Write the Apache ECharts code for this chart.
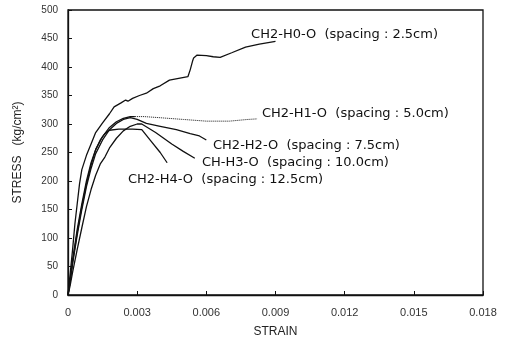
<!DOCTYPE html>
<html><head><meta charset="utf-8">
<script src="https://cdn.jsdelivr.net/npm/echarts@6/dist/echarts.min.js"></script>
<style>html,body{margin:0;padding:0;background:#fff}#c{width:507px;height:349px}</style>
</head><body><div id="c"></div>
<script>
// ---- data ----
const xTicks = [0, 0.003, 0.006, 0.009, 0.012, 0.015, 0.018];
const yTicks = [0, 50, 100, 150, 200, 250, 300, 350, 400, 450, 500];

const h0Strain = [0,0.0001,0.0002,0.0003,0.0004,0.0005,0.0006,0.0008,0.001,0.0012,0.0015,0.0018,0.002,0.0023,0.0025,0.0026,0.0028,0.0031,0.0034,0.0037,0.004,0.0044,0.0048,0.0052,0.0053,0.0054,0.00545,0.0056,0.006,0.0063,0.0066,0.0071,0.0077,0.0083,0.009];
const h0Stress = [0,40,80,125,160,195,220,245,265,285,302,318,330,337,342,340,345,350,354,362,367,377,380,383,395,410,416,421,420,418,417,425,435,440,445];

const h1Strain = [0,0.0001,0.0002,0.0004,0.0006,0.0008,0.001,0.0012,0.0015,0.0018,0.0021,0.0024,0.0027,0.0029,0.0033,0.004,0.005,0.006,0.007,0.0078,0.0082];
const h1Stress = [0,30,62,115,160,200,232,255,278,294,304,310,313,313,313,311,308,305,305,308,309];
const h1PeakIndex = 13; // dotted after this point

const h2Strain = [0,0.0001,0.0002,0.0004,0.0006,0.0008,0.001,0.0012,0.0015,0.0018,0.0021,0.0024,0.0027,0.003,0.0034,0.004,0.0047,0.0053,0.0057,0.006];
const h2Stress = [0,25,55,105,150,190,222,248,272,290,301,308,311,308,301,296,290,283,279,272];

const h3Strain = [0,0.0001,0.0002,0.0004,0.0006,0.0008,0.001,0.0012,0.0014,0.0016,0.0018,0.0021,0.0024,0.0027,0.003,0.0032,0.0038,0.0045,0.005,0.0055];
const h3Stress = [0,18,40,80,118,155,185,210,230,242,258,275,288,296,300,300,285,265,252,240];

const h4Strain = [0,0.0001,0.0002,0.0004,0.0006,0.0008,0.001,0.0012,0.0014,0.0016,0.0018,0.0022,0.0028,0.0032,0.0036,0.004,0.0043];
const h4Stress = [0,28,58,110,155,195,228,255,272,283,289,291,291,290,270,250,232];

const labelTexts = ['CH2-H0-O  (spacing : 2.5cm)','CH2-H1-O  (spacing : 5.0cm)','CH2-H2-O  (spacing : 7.5cm)','CH-H3-O  (spacing : 10.0cm)','CH2-H4-O  (spacing : 12.5cm)'];
const labelStrain = [0.00794, 0.00841, 0.00629, 0.00581, 0.0026];
const labelStress = [456, 318, 262, 232.5, 203];

// ---- build ----
const zip = (a,b) => a.map((v,i)=>[v,b[i]]);
const lineStyle = {color:'#111', width:1.3};
const mk = (name, data, type) => ({type:'line', name, data, showSymbol:false, symbol:'none',
  lineStyle:Object.assign({}, lineStyle, type ? {type, width:1} : {}), animation:false, z:3});
const h1 = zip(h1Strain,h1Stress);

const chart = echarts.init(document.getElementById('c'));
const font = 'Liberation Sans, Arial, sans-serif';
chart.setOption({
  animation:false,
  grid:{left:68, right:24, top:10, bottom:54, show:true, borderColor:'#111', borderWidth:1.3},
  xAxis:{type:'value', min:0, max:0.018, interval:0.003,
    axisLine:{lineStyle:{color:'#111', width:1.3}},
    axisTick:{inside:true, length:4, lineStyle:{color:'#111'}},
    splitLine:{show:false},
    axisLabel:{color:'#333', fontSize:11, fontFamily:font, margin:12,
      formatter:v=>{const i=xTicks.findIndex(t=>Math.abs(t-v)<1e-9); return i<0?'':(i===0?'0':xTicks[i].toFixed(3));}},
    name:'STRAIN', nameLocation:'middle', nameGap:31,
    nameTextStyle:{color:'#222', fontSize:12, fontFamily:font}},
  yAxis:{type:'value', min:0, max:500, interval:50,
    axisLine:{lineStyle:{color:'#111', width:1.3}},
    axisTick:{inside:true, length:4, lineStyle:{color:'#111'}},
    splitLine:{show:false},
    axisLabel:{color:'#333', fontSize:10, fontFamily:font, margin:10,
      formatter:v=>String(yTicks.find(t=>t===v) ?? '')},
    name:'STRESS   (kg/cm\u00B2)', nameLocation:'middle', nameGap:44, nameRotate:90,
    nameTextStyle:{color:'#222', fontSize:12, fontFamily:font}},
  series:[
    mk('H0', zip(h0Strain,h0Stress)),
    mk('H1a', h1.slice(0,h1PeakIndex+1)),
    mk('H1b', h1.slice(h1PeakIndex), 'dotted'),
    mk('H2', zip(h2Strain,h2Stress)),
    mk('H3', zip(h3Strain,h3Stress)),
    mk('H4', zip(h4Strain,h4Stress))
  ]
});
const g = labelTexts.map((t,i)=>{
  const p = chart.convertToPixel({gridIndex:0},[labelStrain[i],labelStress[i]]);
  return {type:'text', x:p[0], y:p[1], style:{text:t, fill:'#111', font:'13px "DejaVu Sans", sans-serif', textVerticalAlign:'middle', textAlign:'left'}};
});
chart.setOption({graphic:g});
</script></body></html>
